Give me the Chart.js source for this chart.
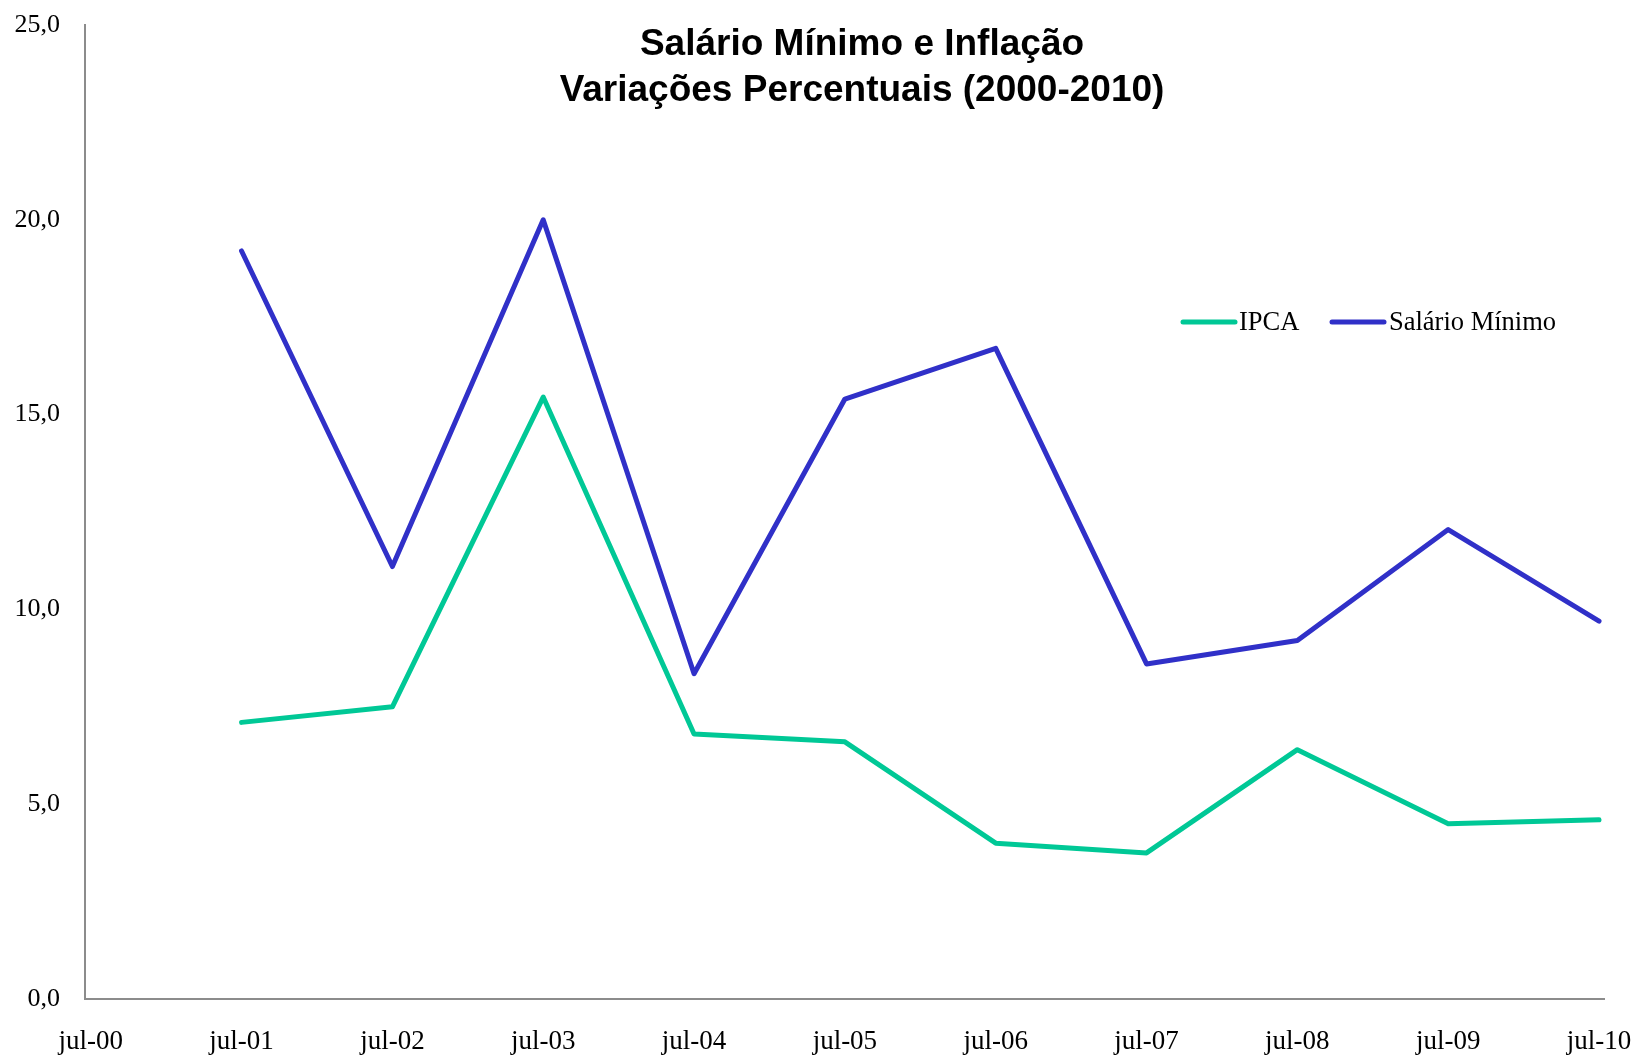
<!DOCTYPE html>
<html>
<head>
<meta charset="utf-8">
<script src="https://cdn.jsdelivr.net/npm/chart.js@4/dist/chart.umd.min.js"></script>
<style>
  html, body { margin: 0; padding: 0; background: #ffffff; }
  #wrap { width: 1633px; height: 1056px; position: relative; }
</style>
</head>
<body>
<div id="wrap"><canvas id="c" width="1633" height="1056"></canvas></div>
<script>
const titleLines = ['Salário Mínimo e Inflação', 'Variações Percentuais (2000-2010)'];
const categories = ['jul-00', 'jul-01', 'jul-02', 'jul-03', 'jul-04', 'jul-05', 'jul-06', 'jul-07', 'jul-08', 'jul-09', 'jul-10'];
const ipca = [null, 7.1, 7.5, 15.45, 6.8, 6.6, 4.0, 3.75, 6.4, 4.5, 4.6];
const salarioMinimo = [null, 19.2, 11.1, 20.0, 8.35, 15.4, 16.7, 8.6, 9.2, 12.05, 9.7];
const seriesNames = ['IPCA', 'Salário Mínimo'];
const yTicks = [0, 5, 10, 15, 20, 25];

const toPoints = arr => arr.map((v, i) => ({ x: i, y: v })).filter(p => p.y !== null);

const titlePlugin = {
  id: 'customTitle',
  afterDraw(chart) {
    const ctx = chart.ctx;
    ctx.save();
    ctx.fillStyle = '#000000';
    ctx.font = 'bold 37px "Liberation Sans", Arial, sans-serif';
    ctx.textAlign = 'center';
    ctx.textBaseline = 'middle';
    ctx.fillText(titleLines[0], 862, 45);
    ctx.fillText(titleLines[1], 862, 91);
    ctx.restore();
  }
};

const legendPlugin = {
  id: 'customLegend',
  afterDraw(chart) {
    const ctx = chart.ctx;
    const items = [
      { x: 1183, tx: 1239 },
      { x: 1332, tx: 1389 }
    ];
    ctx.save();
    ctx.font = '26.5px "Liberation Serif", "Times New Roman", serif';
    ctx.textBaseline = 'middle';
    ctx.textAlign = 'left';
    chart.data.datasets.forEach((ds, i) => {
      const it = items[i];
      const y = 322;
      ctx.strokeStyle = ds.borderColor;
      ctx.lineWidth = 5;
      ctx.lineCap = 'round';
      ctx.beginPath();
      ctx.moveTo(it.x, y);
      ctx.lineTo(it.x + 52, y);
      ctx.stroke();
      ctx.fillStyle = '#000000';
      ctx.fillText(ds.label, it.tx, y + 1);
    });
    ctx.restore();
  }
};

new Chart(document.getElementById('c'), {
  type: 'line',
  data: {
    datasets: [
      {
        label: seriesNames[0],
        data: toPoints(ipca),
        borderColor: '#00C896',
        backgroundColor: '#00C896',
        borderWidth: 5,
        borderCapStyle: 'round',
        borderJoinStyle: 'round',
        pointRadius: 0,
        tension: 0,
        fill: false
      },
      {
        label: seriesNames[1],
        data: toPoints(salarioMinimo),
        borderColor: '#3030C8',
        backgroundColor: '#3030C8',
        borderWidth: 5,
        borderCapStyle: 'round',
        borderJoinStyle: 'round',
        pointRadius: 0,
        tension: 0,
        fill: false
      }
    ]
  },
  options: {
    responsive: false,
    animation: false,
    devicePixelRatio: 1,
    layout: { padding: { top: 25, right: 29, left: 0, bottom: 0 } },
    plugins: {
      legend: { display: false },
      title: { display: false },
      tooltip: { enabled: false }
    },
    scales: {
      x: {
        type: 'linear',
        min: -0.038,
        max: 10.033,
        afterBuildTicks: s => { s.ticks = categories.map((_, i) => ({ value: i })); },
        afterFit: s => { s.height = 57; s.paddingLeft = 0; s.paddingRight = 0; },
        grid: { display: false, drawTicks: false },
        border: { display: true, color: '#8C8C8C', width: 2 },
        ticks: {
          color: '#000000',
          padding: 27,
          maxRotation: 0,
          autoSkip: false,
          font: { family: '"Liberation Serif", "Times New Roman", serif', size: 27 },
          callback: v => categories[v]
        }
      },
      y: {
        min: 0,
        max: 25,
        afterBuildTicks: s => { s.ticks = yTicks.map(v => ({ value: v })); },
        afterFit: s => { s.width = 85; s.paddingTop = 0; s.paddingBottom = 0; },
        grid: { display: false, drawTicks: false },
        border: { display: true, color: '#8C8C8C', width: 2 },
        ticks: {
          color: '#000000',
          padding: 25,
          font: { family: '"Liberation Serif", "Times New Roman", serif', size: 26 },
          callback: v => v.toFixed(1).replace('.', ',')
        }
      }
    }
  },
  plugins: [titlePlugin, legendPlugin]
});
</script>
</body>
</html>
